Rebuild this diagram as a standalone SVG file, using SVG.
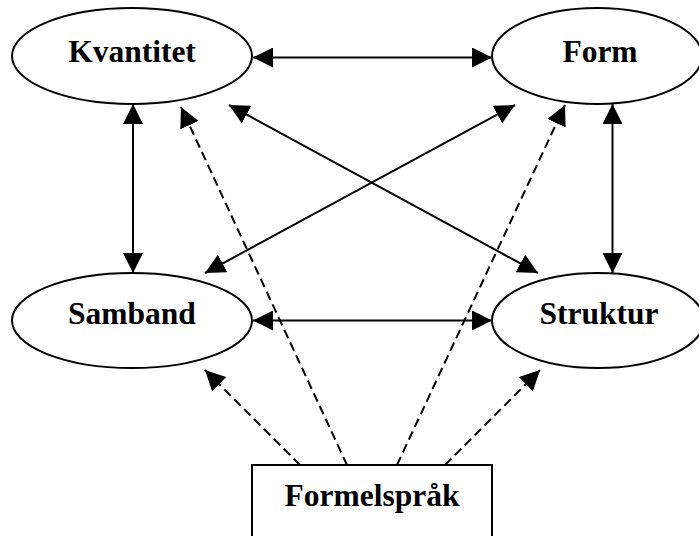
<svg xmlns="http://www.w3.org/2000/svg" width="699" height="536" viewBox="0 0 699 536">
  <style>
    .node { fill: #ffffff; stroke: #000000; stroke-width: 2; }
    .label { font-family: "Liberation Serif", "Times New Roman", serif; font-weight: bold; font-size: 31.5px; fill: #000000; text-anchor: middle; }
    .link { stroke: #000000; stroke-width: 2; fill: none; }
    .both { marker-start: url(#head); marker-end: url(#head); }
    .dashed { stroke-dasharray: 9 5; marker-end: url(#head); }
  </style>
  <defs>
    <marker id="head" markerUnits="userSpaceOnUse" markerWidth="20" markerHeight="20" refX="20" refY="10" orient="auto-start-reverse">
      <path d="M0,0 L20,10 L0,20 z" fill="#000000"/>
    </marker>
  </defs>
  <rect width="699" height="536" fill="#ffffff"/>

  <g id="connectors">
    <!-- solid two-way links between the four areas -->
    <line class="link both" x1="253" y1="57.5" x2="492" y2="57.5"/>
    <line class="link both" x1="133" y1="104" x2="133" y2="273"/>
    <line class="link both" x1="612.5" y1="104" x2="612.5" y2="273"/>
    <line class="link both" x1="253" y1="320.5" x2="492" y2="320.5"/>
    <line class="link both" x1="229" y1="105" x2="538" y2="273"/>
    <line class="link both" x1="205" y1="273" x2="515" y2="105"/>
    <!-- dashed links from the formula language box -->
    <line class="link dashed" x1="347" y1="465" x2="181" y2="107"/>
    <line class="link dashed" x1="397" y1="465" x2="565" y2="105"/>
    <line class="link dashed" x1="300" y1="465" x2="205" y2="370"/>
    <line class="link dashed" x1="445" y1="465" x2="540" y2="370"/>
  </g>

  <g id="kvantitet">
    <ellipse class="node" cx="132" cy="56" rx="120" ry="48"/>
    <text class="label" x="132" y="62">Kvantitet</text>
  </g>
  <g id="form">
    <ellipse class="node" cx="597" cy="56" rx="105" ry="48"/>
    <text class="label" x="600" y="62">Form</text>
  </g>
  <g id="samband">
    <ellipse class="node" cx="132" cy="320.5" rx="120" ry="47.5"/>
    <text class="label" x="132" y="324">Samband</text>
  </g>
  <g id="struktur">
    <ellipse class="node" cx="598" cy="320.5" rx="106" ry="47.5"/>
    <text class="label" x="599" y="324">Struktur</text>
  </g>
  <g id="formelsprak">
    <rect class="node" x="252" y="465" width="240" height="90"/>
    <text class="label" x="372" y="506">Formelspråk</text>
  </g>
</svg>
